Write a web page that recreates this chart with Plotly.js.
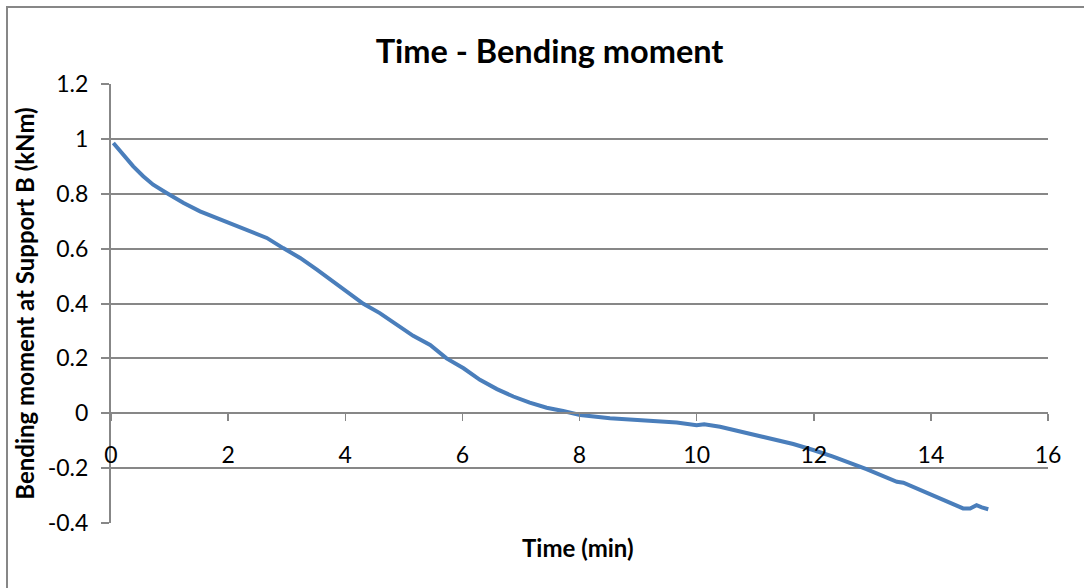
<!DOCTYPE html>
<html>
<head>
<meta charset="utf-8">
<script src="https://cdn.plot.ly/plotly-3.0.1.min.js"></script>
<style>html,body{margin:0;padding:0;background:#fff;}#chart{width:1084px;height:588px;}</style>
</head>
<body>
<div id="chart"></div>
<script>
var timeMin = [0.04, 0.21, 0.38, 0.55, 0.72, 0.95, 1.24, 1.52, 1.80, 2.09, 2.37, 2.66, 2.94, 3.23, 3.51, 3.74, 4.02, 4.31, 4.59, 4.88, 5.16, 5.45, 5.73, 6.02, 6.30, 6.59, 6.87, 7.15, 7.44, 7.72, 8.01, 8.52, 8.81, 9.37, 9.66, 10.0, 10.13, 10.40, 10.74, 11.20, 11.65, 11.99, 12.33, 12.90, 13.42, 13.53, 13.76, 14.04, 14.33, 14.55, 14.67, 14.78, 14.87, 14.98];
var momentKNm = [0.985, 0.943, 0.90, 0.864, 0.833, 0.803, 0.766, 0.736, 0.712, 0.687, 0.663, 0.639, 0.602, 0.566, 0.524, 0.487, 0.444, 0.399, 0.365, 0.322, 0.282, 0.249, 0.200, 0.164, 0.122, 0.088, 0.061, 0.039, 0.020, 0.008, -0.006, -0.018, -0.022, -0.027, -0.034, -0.044, -0.040, -0.049, -0.067, -0.088, -0.112, -0.134, -0.158, -0.204, -0.250, -0.253, -0.274, -0.302, -0.328, -0.347, -0.347, -0.335, -0.343, -0.350];
var xTicks = [0, 2, 4, 6, 8, 10, 12, 14, 16];
var yTicks = [-0.4, -0.2, 0, 0.2, 0.4, 0.6, 0.8, 1, 1.2];

var gray = '#878787';
var trace = {
  x: timeMin, y: momentKNm, type: 'scatter', mode: 'lines',
  line: {color: '#4a7ebb', width: 4, shape: 'linear'},
  hoverinfo: 'skip'
};
var layout = {
  width: 1084, height: 588,
  margin: {l: 111, r: 36, t: 84, b: 65},
  paper_bgcolor: '#fff', plot_bgcolor: '#fff',
  showlegend: false,
  font: {family: 'Lato, sans-serif', color: '#000'},
  title: {
    text: '<b>Time - Bending moment</b>',
    font: {family: 'Lato, sans-serif', size: 32.5, color: '#000'},
    xref: 'container', yref: 'container', x: 0.507, y: 1 - 52/588,
    xanchor: 'center', yanchor: 'middle'
  },
  xaxis: {
    range: [0, 16], tickmode: 'array', tickvals: xTicks,
    ticktext: xTicks.map(String),
    anchor: 'free', position: 0.25,
    showline: true, linecolor: gray, linewidth: 2,
    ticks: 'outside', ticklen: 7, tickwidth: 1.5, tickcolor: gray,
    ticklabelstandoff: 14,
    showgrid: false, zeroline: false,
    tickfont: {family: 'Lato, sans-serif', size: 23, color: '#000'},
    title: {text: ''}
  },
  yaxis: {
    range: [-0.4, 1.2], tickmode: 'array', tickvals: yTicks,
    ticktext: yTicks.map(String),
    showline: true, linecolor: gray, linewidth: 2,
    ticks: 'outside', ticklen: 8, tickwidth: 2, tickcolor: gray,
    ticklabelstandoff: 8,
    showgrid: true, gridcolor: gray, gridwidth: 2,
    zeroline: false,
    tickfont: {family: 'Lato, sans-serif', size: 23, color: '#000'},
    title: {text: '<b>Bending moment at Support B (kNm)</b>', standoff: 6,
      font: {family: 'Lato, sans-serif', size: 24, color: '#000'}}
  },
  annotations: [{
    text: '<b>Time (min)</b>', xref: 'paper', yref: 'paper',
    x: (578-111)/937, y: (523-547)/439, showarrow: false,
    xanchor: 'center', yanchor: 'middle',
    font: {family: 'Lato, sans-serif', size: 24, color: '#000'}
  }],
  shapes: [{
    type: 'rect', xref: 'paper', yref: 'paper',
    x0: (7-111)/937, x1: (1100-111)/937, y0: (523-600)/439, y1: (523-7)/439,
    line: {color: gray, width: 2}, fillcolor: 'rgba(0,0,0,0)', layer: 'below'
  }]
};
Plotly.newPlot('chart', [trace], layout, {staticPlot: true, displayModeBar: false});
</script>
</body>
</html>
